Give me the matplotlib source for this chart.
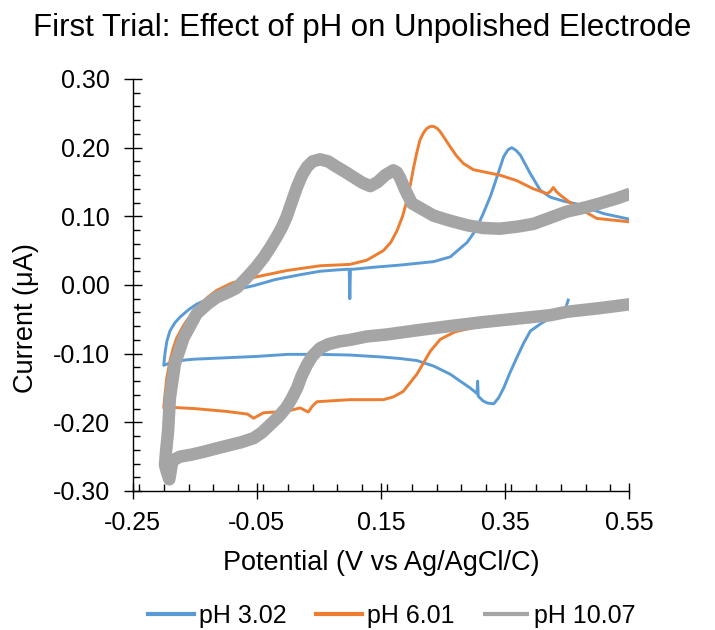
import matplotlib
matplotlib.use("Agg")
import matplotlib.pyplot as plt
from matplotlib.ticker import MultipleLocator, FixedLocator
import numpy as np

plt.rcParams['font.family'] = ['Liberation Sans', 'DejaVu Sans']

title = "First Trial: Effect of pH on Unpolished Electrode"
x_label = "Potential (V vs Ag/AgCl/C)"
y_label = "Current (μA)"
series_names = ["pH 3.02", "pH 6.01", "pH 10.07"]
colors = ["#5B9BD5", "#ED7D31", "#A5A5A5"]
x_ticks = [-0.25, -0.05, 0.15, 0.35, 0.55]
y_ticks = [-0.30, -0.20, -0.10, 0.00, 0.10, 0.20, 0.30]

# pH 3.02 (scan: cathodic from 0.45 to -0.20, then anodic to 0.55)
ph3_x = [0.452, 0.447, 0.430, 0.410, 0.391, 0.380, 0.369, 0.358, 0.348, 0.340,
         0.332, 0.322, 0.315, 0.307, 0.306, 0.305, 0.294, 0.278, 0.262, 0.235,
         0.208, 0.180, 0.154, 0.100, 0.050, 0.000, -0.050, -0.100, -0.150, -0.163,
         -0.185, -0.200,
         -0.198, -0.195, -0.190, -0.182, -0.174, -0.160, -0.147, -0.128, -0.109,
         -0.080, -0.055, -0.020, 0.020, 0.052, 0.080, 0.099, 0.100, 0.101, 0.106,
         0.140, 0.181, 0.235, 0.262, 0.289, 0.303, 0.315, 0.327, 0.337, 0.348,
         0.355, 0.361, 0.368, 0.375, 0.391, 0.407, 0.423, 0.445, 0.466, 0.509, 0.550]
ph3_y = [-0.022, -0.036, -0.045, -0.055, -0.067, -0.085, -0.106, -0.128, -0.150, -0.164,
         -0.173, -0.172, -0.169, -0.162, -0.140, -0.158, -0.150, -0.140, -0.130, -0.118,
         -0.110, -0.107, -0.105, -0.102, -0.101, -0.101, -0.104, -0.106, -0.108, -0.109,
         -0.112, -0.117,
         -0.100, -0.082, -0.067, -0.055, -0.047, -0.036, -0.028, -0.020, -0.013,
         -0.006, -0.001, 0.008, 0.015, 0.020, 0.022, 0.023, -0.020, 0.023, 0.023,
         0.026, 0.029, 0.034, 0.041, 0.062, 0.080, 0.104, 0.130, 0.157, 0.187,
         0.197, 0.200, 0.196, 0.189, 0.162, 0.138, 0.128, 0.122, 0.118, 0.104, 0.096]

# pH 6.01
ph6_x = [0.450, 0.400, 0.350, 0.300, 0.270, 0.246, 0.230, 0.208, 0.186, 0.170,
         0.154, 0.100, 0.047, 0.040, 0.033, 0.020, -0.002, -0.039, -0.055, -0.065,
         -0.100, -0.150, -0.190, -0.200,
         -0.198, -0.195, -0.190, -0.185, -0.179, -0.170, -0.163, -0.150, -0.141,
         -0.128, -0.115, -0.090, -0.055, -0.002, 0.052, 0.100, 0.127, 0.154, 0.166,
         0.176, 0.185, 0.192, 0.198, 0.203, 0.208, 0.213, 0.219, 0.224, 0.230,
         0.235, 0.241, 0.246, 0.254, 0.262, 0.272, 0.283, 0.299, 0.320, 0.342,
         0.369, 0.396, 0.418, 0.423, 0.428, 0.433, 0.439, 0.461, 0.498, 0.550]
ph6_y = [-0.045, -0.050, -0.056, -0.062, -0.068, -0.079, -0.096, -0.130, -0.155, -0.163,
         -0.167, -0.167, -0.170, -0.176, -0.185, -0.179, -0.184, -0.186, -0.194, -0.188,
         -0.184, -0.180, -0.178, -0.179,
         -0.160, -0.135, -0.111, -0.093, -0.077, -0.062, -0.052, -0.038, -0.028,
         -0.017, -0.008, 0.003, 0.011, 0.021, 0.028, 0.030, 0.036, 0.050, 0.062,
         0.079, 0.100, 0.123, 0.148, 0.172, 0.193, 0.211, 0.222, 0.228, 0.231,
         0.231, 0.228, 0.223, 0.212, 0.201, 0.188, 0.177, 0.168, 0.164, 0.160,
         0.152, 0.140, 0.133, 0.136, 0.142, 0.136, 0.131, 0.116, 0.097, 0.092]

# pH 10.07
ph10_x = [0.552, 0.500, 0.450, 0.423, 0.380, 0.315, 0.260, 0.208, 0.160, 0.127,
          0.100, 0.084, 0.066, 0.052, 0.040, 0.031, 0.022, 0.015, 0.006, -0.002,
          -0.015, -0.029, -0.042, -0.055, -0.075, -0.093, -0.115, -0.136, -0.155,
          -0.174, -0.186, -0.191, -0.195, -0.198,
          -0.196, -0.193, -0.190, -0.182, -0.168, -0.147, -0.130, -0.115, -0.095,
          -0.082, -0.066, -0.052, -0.039, -0.028, -0.018, -0.010, -0.002, 0.006,
          0.015, 0.023, 0.031, 0.040, 0.052, 0.065, 0.079, 0.092, 0.106, 0.120,
          0.133, 0.145, 0.157, 0.170, 0.176, 0.181, 0.189, 0.200, 0.235, 0.260,
          0.289, 0.315, 0.342, 0.370, 0.396, 0.420, 0.450, 0.480, 0.504, 0.530, 0.552]
ph10_y = [-0.028, -0.034, -0.039, -0.044, -0.048, -0.054, -0.060, -0.066, -0.072, -0.075,
          -0.080, -0.082, -0.086, -0.092, -0.103, -0.116, -0.133, -0.150, -0.166, -0.178,
          -0.192, -0.204, -0.215, -0.223, -0.229, -0.233, -0.238, -0.243, -0.247,
          -0.250, -0.256, -0.283, -0.272, -0.262,
          -0.240, -0.213, -0.164, -0.115, -0.077, -0.042, -0.028, -0.018, -0.010,
          -0.004, 0.011, 0.025, 0.040, 0.055, 0.070, 0.083, 0.099, 0.120,
          0.143, 0.160, 0.172, 0.180, 0.183, 0.180, 0.172, 0.165, 0.157, 0.149,
          0.144, 0.150, 0.160, 0.167, 0.164, 0.156, 0.139, 0.119, 0.101, 0.094,
          0.087, 0.083, 0.082, 0.085, 0.089, 0.097, 0.107, 0.113, 0.119, 0.126, 0.133]

W, H = 715, 630
fig = plt.figure(figsize=(W / 100, H / 100), dpi=100)
ax = fig.add_axes([132.7 / W, 1 - 491 / H, (629 - 132.7) / W, (491 - 79) / H])

ax.plot(ph3_x, ph3_y, color=colors[0], lw=2.1, label=series_names[0], solid_joinstyle='round')
ax.plot(ph6_x, ph6_y, color=colors[1], lw=2.1, label=series_names[1], solid_joinstyle='round')
ax.plot(ph10_x, ph10_y, color=colors[2], lw=9, label=series_names[2],
        solid_joinstyle='round', solid_capstyle='butt')

ax.set_xlim(-0.25, 0.55)
ax.set_ylim(-0.30, 0.30)
ax.xaxis.set_major_locator(FixedLocator(x_ticks))
ax.yaxis.set_major_locator(FixedLocator(y_ticks))
ax.xaxis.set_minor_locator(MultipleLocator(0.04))
ax.yaxis.set_minor_locator(MultipleLocator(0.02))
ax.set_xticklabels([f"{v:.2f}" for v in x_ticks])
ax.set_yticklabels([f"{v:.2f}" for v in y_ticks])

for s in ['top', 'right']:
    ax.spines[s].set_visible(False)
for s in ['left', 'bottom']:
    ax.spines[s].set_color('black')
    ax.spines[s].set_linewidth(1.0)

ax.tick_params(axis='y', which='major', direction='inout', length=13, width=1,
               labelsize=18, colors='black', pad=10)
ax.tick_params(axis='x', which='major', direction='inout', length=11.5, width=1,
               labelsize=18, colors='black', pad=9)
ax.tick_params(axis='both', which='minor', direction='in', length=5, width=1, colors='black')

ax.set_xlabel(x_label, fontsize=19.5)
ax.xaxis.set_label_coords(0.5, (491 - 563) / 412)
ax.xaxis.label.set_va('center')
ax.set_ylabel(y_label, fontsize=19.5)
ax.yaxis.set_label_coords((26 - 132.7) / 496.3, (491 - 318) / 412)
ax.yaxis.label.set_va('center')

fig.text(362 / W, 1 - 36 / H, title, fontsize=22.5, ha='center', va='baseline')

leg = fig.legend(loc='center', bbox_to_anchor=(392 / W, 1 - 616 / H), ncol=3, frameon=False,
                 fontsize=18, handlelength=1.85, handletextpad=0.2, columnspacing=1.15)
for line in leg.get_lines():
    line.set_linewidth(3)

fig.savefig("out.png", dpi=100)
